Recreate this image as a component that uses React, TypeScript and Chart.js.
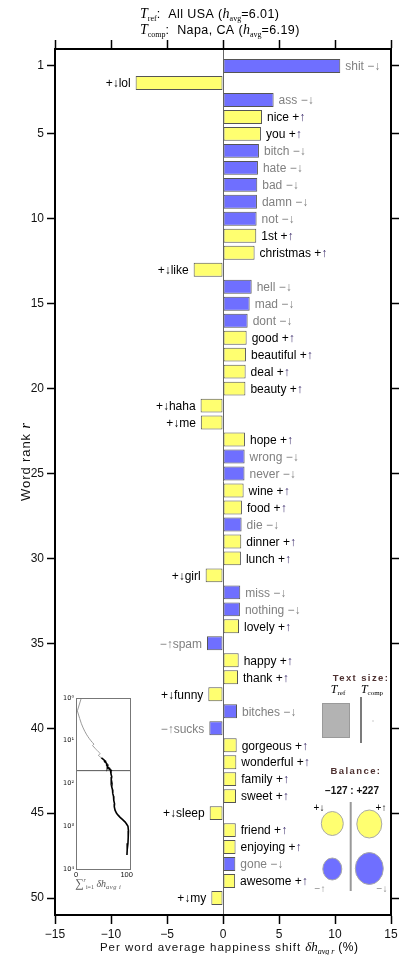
import React, { useEffect, useRef } from 'react';
import { Chart, registerables } from 'chart.js';
Chart.register(...registerables);

// ---------- data ----------
const words = ['shit','lol','ass','nice','you','bitch','hate','bad','damn','not','1st','christmas','like','hell','mad','dont','good','beautiful','deal','beauty','haha','me','hope','wrong','never','wine','food','die','dinner','lunch','girl','miss','nothing','lovely','spam','happy','thank','funny','bitches','sucks','gorgeous','wonderful','family','sweet','sleep','friend','enjoying','gone','awesome','my'];
const shifts = [10.47,-7.8,4.52,3.48,3.39,3.21,3.12,3.06,3.03,3.0,2.97,2.82,-2.62,2.56,2.38,2.2,2.11,2.05,2.02,2.0,-2.0,-1.98,1.96,1.93,1.92,1.84,1.69,1.66,1.63,1.6,-1.55,1.54,1.51,1.43,-1.43,1.4,1.34,-1.31,1.25,-1.22,1.22,1.19,1.18,1.16,-1.19,1.14,1.12,1.1,1.08,-1.04];
// '+' = happier than average word (yellow), '-' = sadder (blue)
const wordTypes = ['-','+','-','+','+','-','-','-','-','-','+','+','+','-','-','-','+','+','+','+','+','+','+','-','-','+','+','-','+','+','+','-','-','+','-','+','+','+','-','-','+','+','+','+','+','+','+','-','+','+'];
const rankTicks = [1,5,10,15,20,25,30,35,40,45,50];
const shiftTicks = [-15,-10,-5,0,5,10,15];
const refName = 'All USA';
const refAvg = '6.01';
const compName = 'Napa, CA';
const compAvg = '6.19';
const balanceText = '\u2212127 : +227';

// inset: cumulative shift vs rank
const cumRanksHead = [1,2,3,4,5,6,7,8,9,10,11,12,13,14,15,16,17,18,19,20,21,22,23,24,25];
const cumValuesHead = [10.47,2.67,7.19,10.67,14.06,17.27,20.39,23.45,26.48,29.48,32.45,35.27,32.65,35.21,37.59,39.79,41.9,43.95,45.97,47.97,45.97,43.97,45.93,47.86,49.78];
const cumRanksTail = [25,26,27,28,29,30,31,32,33,34,35,36,37,38,39,40,41,42,43,44,45,46,47,48,49,50,60,70,80,100,120,140,170,200,250,300,350,420,500,550,620,700,800,900,1000,1300,1800,2500,3500,4700];
const cumValuesTail = [49.78,51.62,53.31,54.97,56.6,58.2,56.65,58.19,59.7,61.13,59.7,61.1,62.44,61.13,62.38,61.16,62.38,63.57,64.75,65.91,64.72,65.86,66.98,68.08,69.16,68.12,69.0,70.5,69.5,71.0,70.5,72.0,72.5,74.0,74.5,76.0,75.5,77.0,80.0,83.0,87.0,92.0,97.0,100.0,102.5,103.5,103.0,102.5,101.0,100.5];
const insetCutoffRank = 50;
const insetRankTicks = [1,10,100,1000,10000];
const insetRankLabels = ['10\u2070','10\u00b9','10\u00b2','10\u00b3','10\u2074'];
const insetSumTicks = [0,100];
const insetSumMax = 106.5;

// ---------- styles ----------
const YELLOW = '#ffff70';
const BLUE = '#6f6fff';
const SANS = '"Liberation Sans", Arial, sans-serif';
const SERIF = '"Liberation Serif", "DejaVu Serif", serif';

type Seg = { t: string; f: string; dy?: number; c?: string; ls?: string };
function drawRich(ctx: CanvasRenderingContext2D, segs: Seg[], x: number, y: number, align: 'left' | 'center' | 'right' = 'left', baseline: CanvasTextBaseline = 'alphabetic') {
  ctx.save();
  ctx.textAlign = 'left';
  ctx.textBaseline = baseline;
  const widths: number[] = [];
  let total = 0;
  segs.forEach(s => {
    ctx.font = s.f;
    (ctx as any).letterSpacing = s.ls || '0px';
    const w = ctx.measureText(s.t).width;
    widths.push(w);
    total += w;
  });
  let cx = align === 'left' ? x : align === 'center' ? x - total / 2 : x - total;
  segs.forEach((s, i) => {
    ctx.font = s.f;
    (ctx as any).letterSpacing = s.ls || '0px';
    ctx.fillStyle = s.c || '#000';
    ctx.fillText(s.t, cx, y + (s.dy || 0));
    cx += widths[i];
  });
  ctx.restore();
}

const decorPlugin = {
  id: 'decor',
  afterDatasetsDraw(chart: any) {
    const ctx: CanvasRenderingContext2D = chart.ctx;
    const meta = chart.getDatasetMeta(0);
    const lf = `12px ${SANS}`;
    meta.data.forEach((bar: any, i: number) => {
      const v = shifts[i];
      const happy = wordTypes[i] === '+';
      const col = happy ? '#000' : '#808080';
      const y = bar.y;
      if (v >= 0) {
        const segs: Seg[] = [
          { t: words[i] + ' ', f: lf, c: col },
          { t: happy ? '+' : '\u2212', f: lf, c: col },
          { t: happy ? '\u2191' : '\u2193', f: lf, c: happy ? '#3a2a6a' : col },
        ];
        drawRich(ctx, segs, bar.x + 5, y + 1, 'left', 'middle');
      } else {
        const segs: Seg[] = [
          { t: happy ? '+' : '\u2212', f: lf, c: col },
          { t: happy ? '\u2193' : '\u2191', f: lf, c: col },
          { t: words[i], f: lf, c: col },
        ];
        drawRich(ctx, segs, bar.x - 5, y + 1, 'right', 'middle');
      }
    });
  },
  afterDraw(chart: any) {
    const ctx: CanvasRenderingContext2D = chart.ctx;
    // title
    const tf = `12.5px ${SANS}`;
    drawRich(ctx, [
      { t: 'T', f: `italic 14px ${SERIF}` },
      { t: 'ref', f: `8px ${SERIF}`, dy: 3 },
      { t: ':  ' + refName + ' (', f: tf, ls: '0.4px' },
      { t: 'h', f: `italic 14px ${SERIF}` },
      { t: 'avg', f: `8px ${SERIF}`, dy: 3 },
      { t: '=' + refAvg + ')', f: tf, ls: '0.4px' },
    ], 140, 17.5);
    drawRich(ctx, [
      { t: 'T', f: `italic 14px ${SERIF}` },
      { t: 'comp', f: `8px ${SERIF}`, dy: 3 },
      { t: ':  ' + compName + ' (', f: tf, ls: '0.4px' },
      { t: 'h', f: `italic 14px ${SERIF}` },
      { t: 'avg', f: `8px ${SERIF}`, dy: 3 },
      { t: '=' + compAvg + ')', f: tf, ls: '0.4px' },
    ], 140, 34);
    // x title
    drawRich(ctx, [
      { t: 'Per word average happiness shift ', f: `11.5px ${SANS}`, ls: '0.95px', c: '#111' },
      { t: '\u03b4h', f: `italic 13px ${SERIF}` },
      { t: 'avg r', f: `italic 8px ${SERIF}`, dy: 3 },
      { t: ' (%)', f: `12px ${SANS}`, ls: '0.5px' },
    ], 100, 951);
    // y title
    ctx.save();
    ctx.translate(26, 462);
    ctx.rotate(-Math.PI / 2);
    drawRich(ctx, [
      { t: 'Word rank ', f: `13px ${SANS}`, ls: '0.9px', c: '#111' },
      { t: 'r', f: `italic 14px ${SERIF}` },
    ], 0, 0, 'center', 'middle');
    ctx.restore();

    // legend: text size
    const lc = '#4d3030';
    drawRich(ctx, [{ t: 'Text size:', f: `bold 9.5px ${SANS}`, ls: '1.4px', c: lc }], 361, 681, 'center');
    drawRich(ctx, [{ t: 'T', f: `italic 12px ${SERIF}` }, { t: 'ref', f: `7px ${SERIF}`, dy: 2 }], 338, 693, 'center');
    drawRich(ctx, [{ t: 'T', f: `italic 12px ${SERIF}` }, { t: 'comp', f: `7px ${SERIF}`, dy: 2 }], 372, 693, 'center');
    ctx.save();
    ctx.fillStyle = '#b3b3b3';
    ctx.strokeStyle = '#9a9a9a';
    ctx.lineWidth = 1;
    ctx.fillRect(322, 703, 28, 35);
    ctx.strokeRect(322.5, 703.5, 27, 34);
    ctx.strokeStyle = '#333';
    ctx.lineWidth = 1.3;
    ctx.beginPath(); ctx.moveTo(361, 697); ctx.lineTo(361, 743); ctx.stroke();
    ctx.fillStyle = '#999';
    ctx.fillRect(372.5, 720.5, 1, 1);
    ctx.restore();
    // balance
    drawRich(ctx, [{ t: 'Balance:', f: `bold 9.5px ${SANS}`, ls: '1.4px', c: lc }], 356, 774, 'center');
    drawRich(ctx, [{ t: balanceText, f: `bold 10px ${SANS}`, c: '#111' }], 352, 794, 'center');
    drawRich(ctx, [{ t: '+\u2193', f: `10px ${SANS}`, c: '#000' }], 319, 811, 'center');
    drawRich(ctx, [{ t: '+\u2191', f: `10px ${SANS}`, c: '#000' }], 381, 811, 'center');
    drawRich(ctx, [{ t: '\u2212\u2191', f: `10px ${SANS}`, c: '#888' }], 320, 892, 'center');
    drawRich(ctx, [{ t: '\u2212\u2193', f: `10px ${SANS}`, c: '#888' }], 382, 892, 'center');
    ctx.save();
    const ell = (x: number, y: number, rx: number, ry: number, fill: string) => {
      ctx.beginPath();
      ctx.ellipse(x, y, rx, ry, 0, 0, Math.PI * 2);
      ctx.fillStyle = fill;
      ctx.fill();
      ctx.strokeStyle = '#a8a8a8';
      ctx.lineWidth = 1;
      ctx.stroke();
    };
    ell(332.3, 823.5, 11, 12, YELLOW);
    ell(369.3, 824, 12.5, 14, YELLOW);
    ell(332.3, 869, 9.5, 11, BLUE);
    ell(369.3, 868.5, 14, 16, BLUE);
    ctx.strokeStyle = '#999';
    ctx.lineWidth = 2;
    ctx.beginPath(); ctx.moveTo(350.7, 802); ctx.lineTo(350.7, 891); ctx.stroke();
    ctx.restore();
  },
};

const insetPlugin = {
  id: 'insetDecor',
  afterDraw(chart: any) {
    const ctx: CanvasRenderingContext2D = chart.ctx;
    const ca = chart.chartArea;
    ctx.save();
    ctx.strokeStyle = '#777';
    ctx.lineWidth = 1;
    ctx.strokeRect(Math.round(ca.left) + 0.5, Math.round(ca.top) + 0.5, Math.round(ca.right - ca.left), Math.round(ca.bottom - ca.top));
    ctx.restore();
    drawRich(ctx, [
      { t: '\u2211', f: `12px ${SERIF}`, c: '#555' },
      { t: 'r', f: `italic 6px ${SERIF}`, dy: -5, c: '#555' },
      { t: 'i=1', f: `6px ${SERIF}`, dy: 2, c: '#555' },
      { t: ' \u03b4h', f: `italic 10px ${SERIF}`, c: '#555' },
      { t: 'avg i', f: `italic 6.5px ${SERIF}`, dy: 2, c: '#555', ls: '0.5px' },
    ], 20, 197);
  },
};

function MainChart() {
  const ref = useRef<HTMLCanvasElement>(null);
  useEffect(() => {
    const canvas = ref.current!;
    const ranks = words.map((_, i) => i + 1);
    const chart = new Chart(canvas, {
      type: 'bar',
      data: {
        datasets: [{
          data: shifts.map((v, i) => ({ x: v, y: ranks[i] })) as any,
          backgroundColor: wordTypes.map(t => (t === '+' ? YELLOW : BLUE)),
          borderColor: '#555',
          borderWidth: 1,
          borderSkipped: false,
          barPercentage: 0.82,
          categoryPercentage: 1,
          xAxisID: 'x',
          yAxisID: 'y',
        }],
      },
      options: {
        animation: false,
        responsive: false,
        indexAxis: 'y',
        layout: { padding: 0 },
        plugins: { legend: { display: false }, tooltip: { enabled: false }, title: { display: false } },
        scales: {
          x: {
            type: 'linear', position: 'bottom', min: -15, max: 15, offset: false,
            afterBuildTicks: (s: any) => { s.ticks = shiftTicks.map(v => ({ value: v })); },
            afterFit: (s: any) => { s.height = 40; },
            ticks: { callback: (v: any) => String(v).replace('-', '\u2212'), font: { family: SANS, size: 12 }, color: '#111', padding: 3, maxRotation: 0, autoSkip: false },
            grid: { offset: false, drawOnChartArea: true, color: (c: any) => (c.tick && c.tick.value === 0 ? '#666' : 'rgba(0,0,0,0)'), lineWidth: 1, tickColor: '#000', tickLength: 9, tickWidth: 1.5 },
            border: { display: true, color: '#000', width: 2 },
          },
          xTop: {
            type: 'linear', position: 'top', min: -15, max: 15, offset: false,
            afterBuildTicks: (s: any) => { s.ticks = shiftTicks.map(v => ({ value: v })); },
            afterFit: (s: any) => { s.height = 49; },
            ticks: { display: false },
            grid: { offset: false, drawOnChartArea: false, tickColor: '#000', tickLength: 9, tickWidth: 1.5 },
            border: { display: true, color: '#000', width: 2 },
          },
          y: {
            type: 'linear', position: 'left', reverse: true, min: 0, max: 51, offset: false,
            afterBuildTicks: (s: any) => { s.ticks = rankTicks.map(v => ({ value: v })); },
            afterFit: (s: any) => { s.width = 55; },
            ticks: { callback: (v: any) => String(v), font: { family: SANS, size: 12 }, color: '#111', padding: 3, autoSkip: false },
            grid: { offset: false, drawOnChartArea: false, tickColor: '#000', tickLength: 8, tickWidth: 1.5 },
            border: { display: true, color: '#000', width: 2 },
          },
          yRight: {
            type: 'linear', position: 'right', reverse: true, min: 0, max: 51, offset: false,
            afterBuildTicks: (s: any) => { s.ticks = rankTicks.map(v => ({ value: v })); },
            afterFit: (s: any) => { s.width = 12; },
            ticks: { display: false },
            grid: { offset: false, drawOnChartArea: false, tickColor: '#000', tickLength: 8, tickWidth: 1.5 },
            border: { display: true, color: '#000', width: 2 },
          },
        },
      } as any,
      plugins: [decorPlugin],
    });
    return () => chart.destroy();
  }, []);
  return <canvas ref={ref} width={403} height={955} style={{ position: 'absolute', left: 0, top: 0 }} />;
}

function InsetChart() {
  const ref = useRef<HTMLCanvasElement>(null);
  useEffect(() => {
    const canvas = ref.current!;
    const chart = new Chart(canvas, {
      type: 'line',
      data: {
        datasets: [
          { data: cumRanksHead.map((r, i) => ({ x: cumValuesHead[i], y: r })) as any, borderColor: '#9a9a9a', borderWidth: 1, pointRadius: 0, tension: 0 },
          { data: cumRanksTail.map((r, i) => ({ x: cumValuesTail[i], y: r })) as any, borderColor: '#000', borderWidth: 1.6, pointRadius: 0, tension: 0 },
          { data: [{ x: 0, y: insetCutoffRank }, { x: insetSumMax, y: insetCutoffRank }] as any, borderColor: '#555', borderWidth: 1, pointRadius: 0 },
        ],
      },
      options: {
        animation: false,
        responsive: false,
        layout: { padding: { top: 8, right: 7, left: 0, bottom: 0 } },
        plugins: { legend: { display: false }, tooltip: { enabled: false } },
        scales: {
          x: {
            type: 'linear', position: 'bottom', min: 0, max: insetSumMax,
            afterBuildTicks: (s: any) => { s.ticks = insetSumTicks.map(v => ({ value: v })); },
            afterFit: (s: any) => { s.height = 26; },
            ticks: { font: { family: SANS, size: 7.5 }, color: '#111', padding: 1, maxRotation: 0, autoSkip: false },
            grid: { drawOnChartArea: false, drawTicks: false },
            border: { display: false },
          },
          y: {
            type: 'logarithmic', position: 'left', reverse: true, min: 1, max: 10000,
            afterBuildTicks: (s: any) => { s.ticks = insetRankTicks.map(v => ({ value: v })); },
            afterFit: (s: any) => { s.width = 21; },
            ticks: { callback: (v: any) => insetRankLabels[insetRankTicks.indexOf(v)] ?? '', font: { family: '"DejaVu Sans"', size: 6.5 }, color: '#111', padding: 2, autoSkip: false },
            grid: { drawOnChartArea: false, drawTicks: false },
            border: { display: false },
          },
        },
      } as any,
      plugins: [insetPlugin],
    });
    return () => chart.destroy();
  }, []);
  return <canvas ref={ref} width={82} height={205} style={{ position: 'absolute', left: 55, top: 690 }} />;
}

export default function App() {
  return (
    <div style={{ position: 'absolute', left: 0, top: 0, width: 403, height: 955, background: '#fff' }}>
      <MainChart />
      <InsetChart />
    </div>
  );
}
